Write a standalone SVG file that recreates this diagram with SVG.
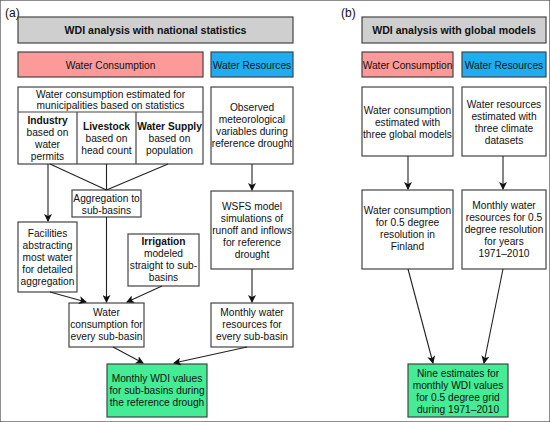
<svg xmlns="http://www.w3.org/2000/svg" width="550" height="422" viewBox="0 0 550 422">
<style>
text{font-family:"Liberation Sans",Arial,sans-serif;font-size:10.2px;fill:#111;text-anchor:middle}
.b{font-weight:bold}
.t{font-weight:bold;font-size:10.6px}
.lbl{font-size:12px;text-anchor:start}
rect{stroke:#444;stroke-width:1.2}
.w{fill:#fff}
.g{fill:#cfcfcf}
.p{fill:#fc9a9a}
.bl{fill:#1fadf2}
.gr{fill:#43ec95}
.c line,.c path{stroke:#222;stroke-width:1.1;fill:none}
</style>
<defs>
<marker id="ah" markerWidth="8" markerHeight="8" refX="7" refY="4" orient="auto" markerUnits="userSpaceOnUse">
<path d="M0,0 L8,4 L0,8 L2,4 Z" fill="#111"/>
</marker>
</defs>
<rect width="550" height="422" fill="#fff" stroke="none"/>
<text class="lbl" x="5" y="17">(a)</text>
<text class="lbl" x="341" y="17">(b)</text>

<g id="a-title"><rect class="g" x="18" y="17" width="275" height="26"/><text class="t" x="155.5" y="34">WDI analysis with national statistics</text></g>
<g id="a-wc"><rect class="p" x="18" y="52" width="185" height="25"/><text x="110.5" y="68.5">Water Consumption</text></g>
<g id="a-wr"><rect class="bl" x="211" y="52" width="82" height="25"/><text x="252" y="68.5">Water Resources</text></g>

<g id="a-stats">
<rect class="w" x="18" y="87" width="185" height="77"/>
<line x1="18" y1="112" x2="203" y2="112" stroke="#444" stroke-width="1.2"/>
<line x1="77" y1="112" x2="77" y2="164" stroke="#444" stroke-width="1.2"/>
<line x1="136" y1="112" x2="136" y2="164" stroke="#444" stroke-width="1.2"/>
<text x="110.5" y="98">Water consumption estimated for</text>
<text x="110.5" y="109">municipalities based on statistics</text>
<text class="b" x="47.5" y="124">Industry</text><text x="47.5" y="136">based on</text><text x="47.5" y="148">water</text><text x="47.5" y="160">permits</text>
<text class="b" x="106.5" y="130">Livestock</text><text x="106.5" y="142">based on</text><text x="106.5" y="154">head count</text>
<text class="b" x="169.5" y="130">Water Supply</text><text x="169.5" y="142">based on</text><text x="169.5" y="154">population</text>
</g>
<g id="a-obs"><rect class="w" x="211" y="87" width="82" height="77"/>
<text x="252" y="111">Observed</text><text x="252" y="123">meteorological</text><text x="252" y="135">variables during</text><text x="252" y="147">reference drought</text></g>
<g id="a-agg"><rect class="w" x="72" y="190" width="69" height="27"/><text x="106.5" y="202">Aggregation to</text><text x="106.5" y="214">sub-basins</text></g>
<g id="a-fac"><rect class="w" x="18" y="222" width="59" height="70"/>
<text x="47.5" y="237">Facilities</text><text x="47.5" y="249">abstracting</text><text x="47.5" y="261">most water</text><text x="47.5" y="273">for detailed</text><text x="47.5" y="285">aggregation</text></g>
<g id="a-irr"><rect class="w" x="128" y="234" width="71" height="52"/>
<text class="b" x="163.5" y="245">Irrigation</text><text x="163.5" y="257">modeled</text><text x="163.5" y="269">straight to sub-</text><text x="163.5" y="281">basins</text></g>
<g id="a-wsfs"><rect class="w" x="211" y="191" width="82" height="78"/>
<text x="252" y="210">WSFS model</text><text x="252" y="222">simulations of</text><text x="252" y="234">runoff and inflows</text><text x="252" y="246">for reference</text><text x="252" y="258">drought</text></g>
<g id="a-wcsb"><rect class="w" x="69" y="303" width="75" height="44"/>
<text x="106.5" y="316">Water</text><text x="106.5" y="328">consumption for</text><text x="106.5" y="340">every sub-basin</text></g>
<g id="a-mwr"><rect class="w" x="211" y="303" width="82" height="44"/>
<text x="252" y="316">Monthly water</text><text x="252" y="328">resources for</text><text x="252" y="340">every sub-basin</text></g>
<g id="a-wdi"><rect class="gr" x="107" y="364" width="100" height="53"/>
<text x="157" y="382">Monthly WDI values</text><text x="157" y="394">for sub-basins during</text><text x="157" y="406">the reference drough</text></g>

<g id="b-title"><rect class="g" x="362" y="17" width="184" height="26"/><text class="t" x="454" y="34">WDI analysis with global models</text></g>
<g id="b-wc"><rect class="p" x="362" y="52" width="91" height="25"/><text x="407.5" y="68.5">Water Consumption</text></g>
<g id="b-wr"><rect class="bl" x="462" y="52" width="84" height="25"/><text x="504" y="68.5">Water Resources</text></g>
<g id="b-wce"><rect class="w" x="362" y="87" width="91" height="69"/>
<text x="407.5" y="114">Water consumption</text><text x="407.5" y="126">estimated with</text><text x="407.5" y="138">three global models</text></g>
<g id="b-wre"><rect class="w" x="462" y="87" width="84" height="69"/>
<text x="504" y="108">Water resources</text><text x="504" y="120">estimated with</text><text x="504" y="132">three climate</text><text x="504" y="144">datasets</text></g>
<g id="b-wcf"><rect class="w" x="362" y="190" width="91" height="79"/>
<text x="407.5" y="214">Water consumption</text><text x="407.5" y="226">for 0.5 degree</text><text x="407.5" y="238">resolution in</text><text x="407.5" y="250">Finland</text></g>
<g id="b-mwr"><rect class="w" x="462" y="190" width="84" height="79"/>
<text x="504" y="209">Monthly water</text><text x="504" y="221">resources for 0.5</text><text x="504" y="233">degree resolution</text><text x="504" y="245">for years</text><text x="504" y="257">1971–2010</text></g>
<g id="b-wdi"><rect class="gr" x="408" y="364" width="100" height="53"/>
<text x="458" y="377">Nine estimates for</text><text x="458" y="389">monthly WDI values</text><text x="458" y="401">for 0.5 degree grid</text><text x="458" y="413">during 1971–2010</text></g>

<g id="connectors" class="c">
<line x1="48" y1="164" x2="48" y2="221" marker-end="url(#ah)"/>
<line x1="50" y1="164" x2="106.5" y2="190"/>
<line x1="168" y1="164" x2="106.5" y2="190"/>
<line x1="106.5" y1="164" x2="106.5" y2="190"/>
<line x1="106.5" y1="217" x2="106.5" y2="302" marker-end="url(#ah)"/>
<line x1="50" y1="292" x2="86" y2="302" marker-end="url(#ah)"/>
<line x1="162" y1="286" x2="127" y2="302" marker-end="url(#ah)"/>
<line x1="252" y1="164" x2="252" y2="190" marker-end="url(#ah)"/>
<line x1="252" y1="269" x2="252" y2="302" marker-end="url(#ah)"/>
<line x1="113" y1="347" x2="143" y2="363" marker-end="url(#ah)"/>
<line x1="247" y1="347" x2="174" y2="363" marker-end="url(#ah)"/>
<line x1="408" y1="156" x2="408" y2="189" marker-end="url(#ah)"/>
<line x1="503" y1="156" x2="503" y2="189" marker-end="url(#ah)"/>
<line x1="408" y1="269" x2="433" y2="363" marker-end="url(#ah)"/>
<line x1="503" y1="269" x2="484" y2="363" marker-end="url(#ah)"/>
</g>
</svg>
